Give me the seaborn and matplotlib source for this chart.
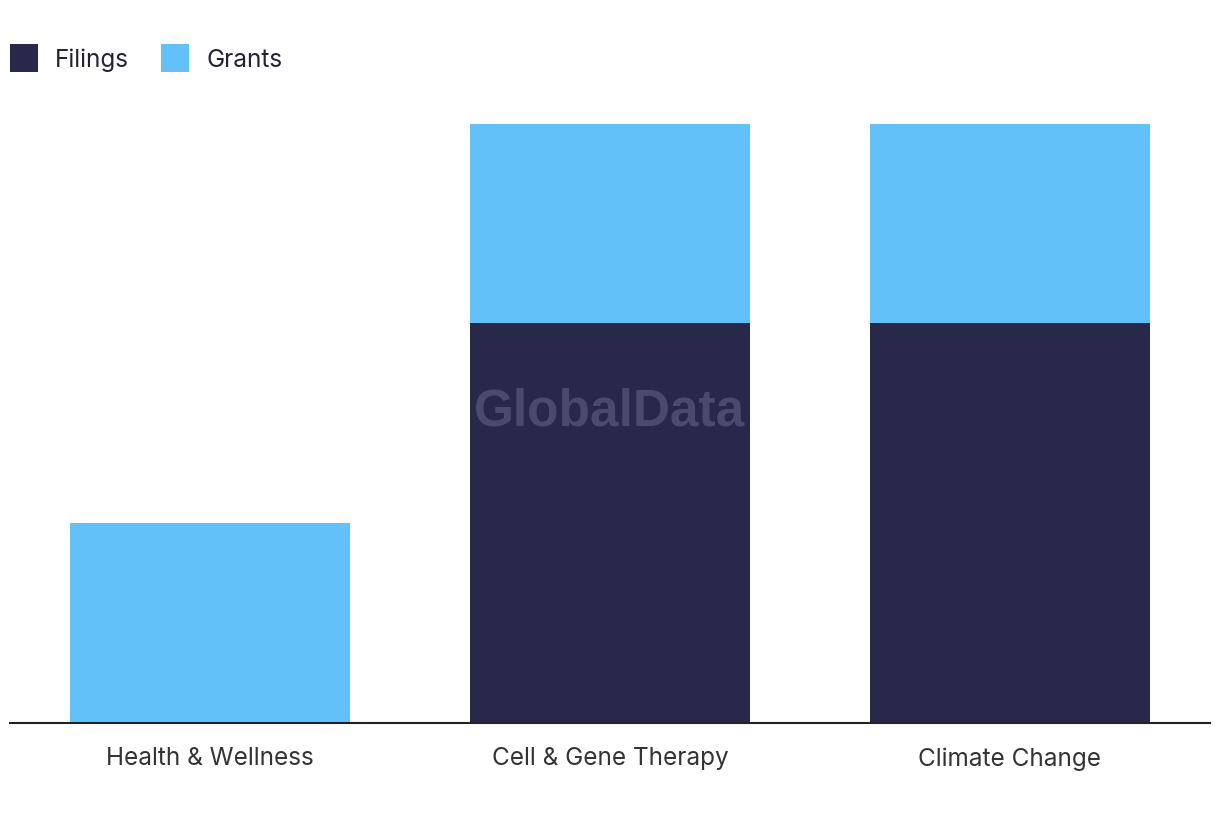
import matplotlib
matplotlib.use("Agg")
import matplotlib.pyplot as plt
import seaborn as sns
from matplotlib.patches import Patch

categories = ["Health & Wellness", "Cell & Gene Therapy", "Climate Change"]
filings = [0, 2, 2]
grants = [1, 1, 1]
series_names = ["Filings", "Grants"]

dark = "#28284b"
light = "#62c1f8"

sns.set_theme(style="white")
plt.rcParams['font.family'] = ['Inter', 'DejaVu Sans']

fig = plt.figure(figsize=(12.2, 8.2), dpi=100)
ax = fig.add_axes([10/1220, (820-723.5)/820, 1200/1220, (723.5-124.5)/820])

totals = [f + g for f, g in zip(filings, grants)]
sns.barplot(x=categories, y=totals, color=light, width=0.7, ax=ax, saturation=1, linewidth=0)
sns.barplot(x=categories, y=filings, color=dark, width=0.7, ax=ax, saturation=1, linewidth=0)

ax.set_xlim(-0.5, 2.5)
ax.set_ylim(0, 3)
ax.set_yticks([])
ax.set_xlabel("")
ax.set_ylabel("")
for s in ["top", "right", "left"]:
    ax.spines[s].set_visible(False)
ax.spines["bottom"].set_color("#222222")
ax.spines["bottom"].set_linewidth(1.5)
ax.tick_params(axis="x", length=0, pad=17, labelsize=17.5, labelcolor="#333333")

fig.text(610/1220, 1 - 412/820, "GlobalData", ha="center", va="center",
         fontsize=37, fontweight="bold", color="#4a4a6c",
         family=["Liberation Sans", "DejaVu Sans"])

handles = [Patch(facecolor=dark, edgecolor="none"), Patch(facecolor=light, edgecolor="none")]
fig.legend(handles, series_names, loc="upper left", bbox_to_anchor=(10/1220, 1 - 45/820),
           ncol=2, frameon=False, fontsize=17.5, handlelength=1.15, handleheight=1.4,
           handletextpad=0.7, columnspacing=1.32, labelcolor="#222233",
           borderaxespad=0, borderpad=0)

fig.savefig("out.png", dpi=100)
